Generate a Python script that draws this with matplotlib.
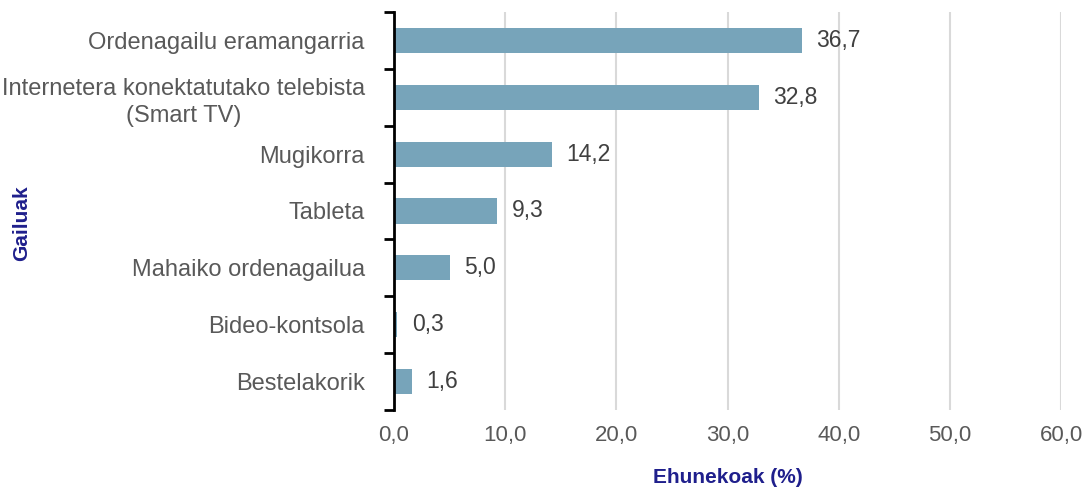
import matplotlib.pyplot as plt
import numpy as np

plt.rcParams['font.family'] = ['Liberation Sans', 'DejaVu Sans']

# datuak
gailuak = ['Ordenagailu eramangarria',
           'Internetera konektatutako telebista\n(Smart TV)',
           'Mugikorra', 'Tableta', 'Mahaiko ordenagailua',
           'Bideo-kontsola', 'Bestelakorik']
balioak = [36.7, 32.8, 14.2, 9.3, 5.0, 0.3, 1.6]
x_ticks = [0, 10, 20, 30, 40, 50, 60]

bar_color = '#77A4BA'
text_color = '#595959'
title_color = '#1F1F8C'

fig = plt.figure(figsize=(10.89, 4.92), dpi=100)
ax = fig.add_axes([0.3618, 0.1667, 0.6125, 0.8089])

y = np.arange(len(gailuak))
ax.barh(y, balioak, height=0.44, color=bar_color, zorder=3)

for yi, v in zip(y, balioak):
    ax.text(v + 1.3, yi, f'{v:.1f}'.replace('.', ','), va='center', ha='left',
            fontsize=16.5, color='#404040')

ax.set_ylim(len(gailuak) - 0.5, -0.5)
ax.set_xlim(0, 60)
ax.set_yticks(y)
ax.set_yticklabels(gailuak, fontsize=17, color=text_color, multialignment='center',
                   linespacing=1.3)
ax.tick_params(axis='y', which='major', length=0, pad=21)
ax.set_yticks(np.arange(-0.5, len(gailuak)), minor=True)
ax.tick_params(axis='y', which='minor', length=7, width=2, color='black', direction='out')

ax.set_xticks(x_ticks)
ax.set_xticklabels([f'{t:.1f}'.replace('.', ',') for t in x_ticks], fontsize=16, color=text_color)
ax.tick_params(axis='x', length=0, pad=11)
ax.xaxis.grid(True, color='#D9D9D9', linewidth=1.5, zorder=0)

for s in ['top', 'right', 'bottom']:
    ax.spines[s].set_visible(False)
ax.spines['left'].set_linewidth(2)
ax.spines['left'].set_zorder(4)

ax.set_xlabel('Ehunekoak (%)', fontsize=15, fontweight='bold', color=title_color, labelpad=16)
fig.text(0.02, 0.547, 'Gailuak', rotation=90, fontsize=15, fontweight='bold',
         color=title_color, va='center', ha='center')

fig.savefig('out.png', dpi=100)
